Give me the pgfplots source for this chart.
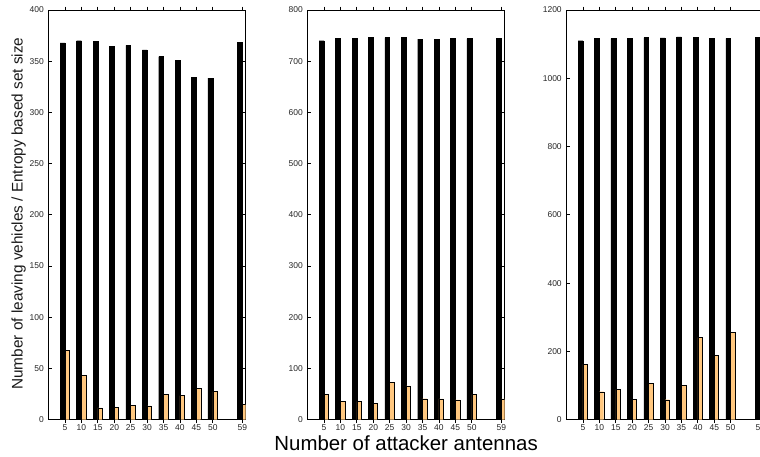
\documentclass[border=0pt]{standalone}
\usepackage{fontspec}
\setmainfont{Liberation Sans}
\usepackage{pgfplots}
\usepackage{pgfplotstable}
\pgfplotsset{compat=1.18}
\definecolor{copperhi}{rgb}{1,0.7812,0.4975}

\pgfplotstableread{
x black orange
5  368   68
10 370   43.5
15 369.5 11.5
20 364.5 12
25 365.5 14
30 361   13.5
35 354.5 25
40 351   23.5
45 334.5 30.5
50 333.5 27.5
59 368.5 15
}\panelA

\pgfplotstableread{
x black orange
5  740 49
10 744 36
15 744 36
20 746 32.5
25 746 72.5
30 746 66
35 743 41
40 743 40.5
45 745 38.5
50 744 49.5
59 744 40.5
}\panelB

\pgfplotstableread{
x black orange
5  1110 162
10 1116 82
15 1116 89
20 1116 59.5
25 1119 107
30 1118 58.5
35 1121 100.5
40 1119 241
45 1116 188
50 1117 256.5
}\panelC

\pgfplotstableread{
x black
59 1121
}\panelCtail

\pgfplotsset{
  panel/.style={
    scale only axis, width=197bp, height=409.7bp, anchor=south west,
    xmin=0, xmax=60, ymin=0,
    xtick={5,10,...,50,59},
    scaled y ticks=false,
    /pgf/number format/1000 sep={},
    axis line style={line width=0.8bp},
    every tick/.style={black, line width=0.8bp},
    major tick length=3.3bp,
    tick align=inside,
    xtick pos=both, ytick pos=both,
    ticklabel style={font=\fontsize{8.5}{10}\selectfont, text=black!85},
    /pgf/number format/assume math mode=true,
    yticklabel style={xshift=-1.3bp},
    xticklabel style={yshift=0.5bp, inner sep=1.5bp},
    ybar,
  },
  blackbar/.style={fill=black, draw=black, line width=0.4bp, bar width=4.8bp, bar shift=-2.4bp},
  orangebar/.style={fill=copperhi, draw=black, line width=0.4bp, bar width=4.4bp, bar shift=2.2bp},
}

\begin{document}
\begin{tikzpicture}
\useasboundingbox (0,0) rectangle (760bp,457bp);
\clip (0,0) rectangle (760bp,457bp);

\begin{axis}[panel, at={(48.6bp,37.3bp)}, ymax=400, ytick={0,50,...,400},
  ylabel={Number of leaving vehicles / Entropy based set size},
  ylabel style={at={(axis description cs:-0.1315,0.503)}, anchor=base, font=\fontsize{15.4}{18}\selectfont, text=black!90}]
\addplot[blackbar] table[x=x,y=black] {\panelA};
\addplot[orangebar] table[x=x,y=orange] {\panelA};
\end{axis}

\begin{axis}[panel, at={(307.6bp,37.3bp)}, ymax=800, ytick={0,100,...,800},
  xlabel={Number of attacker antennas},
  xlabel style={at={(axis description cs:0.5,-0.074)}, anchor=base, font=\fontsize{20.5}{24}\selectfont, text=black}]
\addplot[blackbar] table[x=x,y=black] {\panelB};
\addplot[orangebar] table[x=x,y=orange] {\panelB};
\end{axis}

\begin{axis}[panel, at={(566.5bp,37.3bp)}, ymax=1200, ytick={0,200,...,1200}]
\addplot[blackbar] table[x=x,y=black] {\panelC};
\addplot[orangebar] table[x=x,y=orange] {\panelC};
\addplot[blackbar] table[x=x,y=black] {\panelCtail};
\end{axis}
\end{tikzpicture}
\end{document}
